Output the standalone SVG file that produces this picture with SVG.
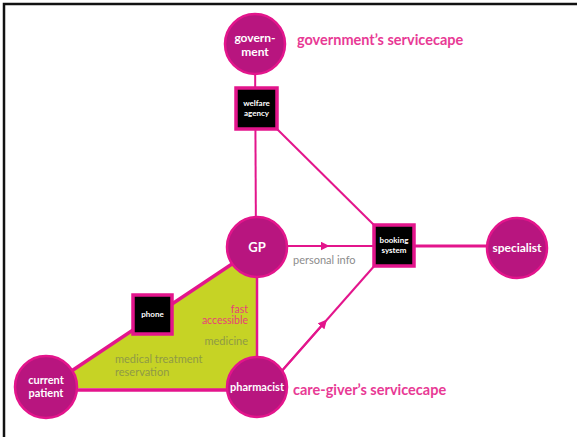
<svg xmlns="http://www.w3.org/2000/svg" width="577" height="437" viewBox="0 0 577 437">
  <defs>
    <style>
      .node circle { fill: #b8157f; stroke: #e3158c; stroke-width: 2.5; }
      .node text { fill: #ffffff; font-family: Lato, "Open Sans", sans-serif; font-weight: bold; text-anchor: middle; }
      .box rect { fill: #000000; stroke: #e3158c; stroke-width: 3.5; }
      .box text { fill: #ffffff; font-family: Lato, "Open Sans", sans-serif; font-weight: bold; font-size: 8px; text-anchor: middle; }
      .edge { stroke: #e3158c; fill: none; }
      .scape { fill: #e83a95; font-family: Lato, "Open Sans", sans-serif; font-weight: bold; font-size: 14.5px; }
      .olive { fill: #8f9a45; font-family: Lato, "Open Sans", sans-serif; font-size: 11px; }
    </style>
    <marker id="arrow" viewBox="0 0 10 10" refX="5" refY="5" markerWidth="4.5" markerHeight="4.5" orient="auto" markerUnits="strokeWidth">
      <path d="M0,0 L10,5 L0,10 z" fill="#e3158c"/>
    </marker>
  </defs>

  <rect x="0" y="0" width="577" height="437" fill="#ffffff"/>
  <!-- frame (top and left edges) -->
  <path d="M4,437 V4 H577" fill="none" stroke="#111111" stroke-width="2.5"/>

  <!-- care-giver area -->
  <polygon points="46,388 256,248 257,389" fill="#c6d325"/>

  <g id="connectors">
    <line class="edge" x1="255" y1="44" x2="256" y2="248" stroke-width="2"/>
    <line class="edge" x1="276" y1="128" x2="377" y2="228" stroke-width="2"/>
    <line class="edge" x1="256" y1="246" x2="376" y2="246" stroke-width="2"/>
    <line class="edge" x1="287" y1="246" x2="325" y2="246" stroke-width="2" marker-end="url(#arrow)"/>
    <line class="edge" x1="413" y1="246" x2="490" y2="246" stroke-width="3"/>
    <line class="edge" x1="280" y1="373" x2="376" y2="264" stroke-width="2"/>
    <line class="edge" x1="280" y1="373" x2="324" y2="323" stroke-width="2" marker-end="url(#arrow)"/>
    <line class="edge" x1="46" y1="388" x2="256" y2="248" stroke-width="3.5"/>
    <line class="edge" x1="257" y1="250" x2="257" y2="389" stroke-width="2.5"/>
    <line class="edge" x1="46" y1="390" x2="257" y2="390" stroke-width="3.5"/>
  </g>

  <g id="government" class="node">
    <circle cx="255" cy="44" r="30"/>
    <text x="255" y="42" font-size="12">govern-</text>
    <text x="255" y="56" font-size="12">ment</text>
  </g>

  <g id="welfare-agency" class="box">
    <rect x="236" y="88" width="41" height="41"/>
    <text x="256.5" y="106">welfare</text>
    <text x="256.5" y="116">agency</text>
  </g>

  <g id="gp" class="node">
    <circle cx="257" cy="247" r="30"/>
    <text x="257" y="252" font-size="13">GP</text>
  </g>

  <g id="booking-system" class="box">
    <rect x="374" y="225" width="40" height="41"/>
    <text x="394" y="243">booking</text>
    <text x="394" y="253">system</text>
  </g>

  <g id="specialist" class="node">
    <circle cx="517" cy="248" r="30"/>
    <text x="517" y="252" font-size="12">specialist</text>
  </g>

  <g id="phone" class="box">
    <rect x="133" y="295" width="39" height="39"/>
    <text x="152.5" y="317">phone</text>
  </g>

  <g id="current-patient" class="node">
    <circle cx="46" cy="387" r="31"/>
    <text x="46" y="384" font-size="11">current</text>
    <text x="46" y="397" font-size="11">patient</text>
  </g>

  <g id="pharmacist" class="node">
    <circle cx="257" cy="387" r="30"/>
    <text x="257" y="391" font-size="11">pharmacist</text>
  </g>

  <!-- labels -->
  <text class="scape" x="297" y="45">government’s servicecape</text>
  <text class="scape" x="293" y="395">care-giver’s servicecape</text>
  <text x="293" y="264" fill="#8c8c8c" font-family="Lato, 'Open Sans', sans-serif" font-size="11">personal info</text>
  <text x="248" y="313" fill="#e8407a" font-family="Lato, 'Open Sans', sans-serif" font-size="10.5" text-anchor="end">fast</text>
  <text x="248" y="324" fill="#e8407a" font-family="Lato, 'Open Sans', sans-serif" font-size="10.5" text-anchor="end">accessible</text>
  <text class="olive" x="248" y="345" text-anchor="end">medicine</text>
  <text class="olive" x="115" y="363">medical treatment</text>
  <text class="olive" x="115" y="376">reservation</text>
</svg>
